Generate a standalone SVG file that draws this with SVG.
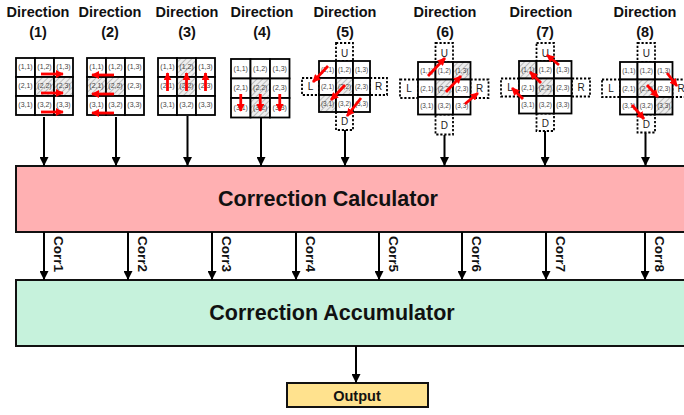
<svg xmlns="http://www.w3.org/2000/svg" width="684" height="415" viewBox="0 0 684 415">
<style>
.cell{fill:#fff;stroke:#000;stroke-width:1.8}
.hat{fill:url(#hatch);stroke:#000;stroke-width:1.8}
.lbl{font-family:"Liberation Sans",Arial,sans-serif;font-size:7px;fill:#444;text-anchor:middle}
.lbs{font-family:"Liberation Sans",Arial,sans-serif;font-size:6.4px;fill:#444;text-anchor:middle}
.dot{fill:#fff;stroke:#000;stroke-width:1.8;stroke-dasharray:2.2,1.8}
.dl{font-family:"Liberation Sans",Arial,sans-serif;font-size:10px;fill:#222;text-anchor:middle}
.red{stroke:#f00;stroke-width:2.8;fill:none;marker-end:url(#rh)}
.con{stroke:#000;stroke-width:2;fill:none;marker-end:url(#ah)}
.title{font-family:"Liberation Sans",Arial,sans-serif;font-weight:bold;font-size:14.5px;text-anchor:middle;fill:#111}
.corr{font-family:"Liberation Sans",Arial,sans-serif;font-weight:bold;font-size:13.5px;fill:#111}
.big{font-family:"Liberation Sans",Arial,sans-serif;font-weight:bold;font-size:21.5px;text-anchor:middle;fill:#111}
.box{stroke:#111;stroke-width:2}
</style>
<defs>
<pattern id="hatch" patternUnits="userSpaceOnUse" width="4" height="4" patternTransform="rotate(45)">
<rect width="4" height="4" fill="#eeeeee"/>
<line x1="0" y1="0" x2="0" y2="4" stroke="#8a8a8a" stroke-width="1"/>
</pattern>
<marker id="ah" markerUnits="userSpaceOnUse" markerWidth="9" markerHeight="9" viewBox="0 0 10 10" refX="10" refY="5" orient="auto">
<path d="M0,0 L10,5 L0,10 z" fill="#000"/>
</marker>
<marker id="rh" markerUnits="userSpaceOnUse" markerWidth="8" markerHeight="8" viewBox="0 0 10 10" refX="9" refY="5" orient="auto">
<path d="M0,0 L10,5 L0,10 z" fill="#f00"/>
</marker>
</defs>

<!-- Direction 1 -->
<g id="dir1">
<text class="title" x="38" y="17">Direction</text>
<text class="title" x="38" y="37">(1)</text>
<g transform="translate(16,58)">
<rect class="cell" x="0" y="0" width="19" height="19"/><rect class="cell" x="19" y="0" width="19" height="19"/><rect class="cell" x="38" y="0" width="19" height="19"/>
<rect class="cell" x="0" y="19" width="19" height="19"/><rect class="hat" x="19" y="19" width="19" height="19"/><rect class="hat" x="38" y="19" width="19" height="19"/>
<rect class="cell" x="0" y="38" width="19" height="19"/><rect class="cell" x="19" y="38" width="19" height="19"/><rect class="cell" x="38" y="38" width="19" height="19"/>
<text class="lbl" x="9.5" y="11">(1,1)</text><text class="lbl" x="28.5" y="11">(1,2)</text><text class="lbl" x="47.5" y="11">(1,3)</text>
<text class="lbl" x="9.5" y="30">(2,1)</text><text class="lbl" x="28.5" y="30">(2,2)</text><text class="lbl" x="47.5" y="30">(2,3)</text>
<text class="lbl" x="9.5" y="49">(3,1)</text><text class="lbl" x="28.5" y="49">(3,2)</text><text class="lbl" x="47.5" y="49">(3,3)</text>
<line class="red" x1="25" y1="16" x2="47" y2="16"/>
<line class="red" x1="25" y1="35" x2="47" y2="35"/>
<line class="red" x1="25" y1="54" x2="47" y2="54"/>
</g>
</g>

<!-- Direction 2 -->
<g id="dir2">
<text class="title" x="110" y="17">Direction</text>
<text class="title" x="110" y="37">(2)</text>
<g transform="translate(87,58)">
<rect class="cell" x="0" y="0" width="19" height="19"/><rect class="cell" x="19" y="0" width="19" height="19"/><rect class="cell" x="38" y="0" width="19" height="19"/>
<rect class="hat" x="0" y="19" width="19" height="19"/><rect class="hat" x="19" y="19" width="19" height="19"/><rect class="cell" x="38" y="19" width="19" height="19"/>
<rect class="cell" x="0" y="38" width="19" height="19"/><rect class="cell" x="19" y="38" width="19" height="19"/><rect class="cell" x="38" y="38" width="19" height="19"/>
<text class="lbl" x="9.5" y="11">(1,1)</text><text class="lbl" x="28.5" y="11">(1,2)</text><text class="lbl" x="47.5" y="11">(1,3)</text>
<text class="lbl" x="9.5" y="30">(2,1)</text><text class="lbl" x="28.5" y="30">(2,2)</text><text class="lbl" x="47.5" y="30">(2,3)</text>
<text class="lbl" x="9.5" y="49">(3,1)</text><text class="lbl" x="28.5" y="49">(3,2)</text><text class="lbl" x="47.5" y="49">(3,3)</text>
<line class="red" x1="27" y1="17" x2="5" y2="17"/>
<line class="red" x1="27" y1="36" x2="5" y2="36"/>
<line class="red" x1="27" y1="55" x2="5" y2="55"/>
</g>
</g>

<!-- Direction 3 -->
<g id="dir3">
<text class="title" x="187" y="17">Direction</text>
<text class="title" x="187" y="37">(3)</text>
<g transform="translate(158,58)">
<rect class="cell" x="0" y="0" width="19" height="19"/><rect class="hat" x="19" y="0" width="19" height="19"/><rect class="cell" x="38" y="0" width="19" height="19"/>
<rect class="cell" x="0" y="19" width="19" height="19"/><rect class="hat" x="19" y="19" width="19" height="19"/><rect class="cell" x="38" y="19" width="19" height="19"/>
<rect class="cell" x="0" y="38" width="19" height="19"/><rect class="cell" x="19" y="38" width="19" height="19"/><rect class="cell" x="38" y="38" width="19" height="19"/>
<text class="lbl" x="9.5" y="11">(1,1)</text><text class="lbl" x="28.5" y="11">(1,2)</text><text class="lbl" x="47.5" y="11">(1,3)</text>
<text class="lbl" x="9.5" y="30">(2,1)</text><text class="lbl" x="28.5" y="30">(2,2)</text><text class="lbl" x="47.5" y="30">(2,3)</text>
<text class="lbl" x="9.5" y="49">(3,1)</text><text class="lbl" x="28.5" y="49">(3,2)</text><text class="lbl" x="47.5" y="49">(3,3)</text>
<line class="red" x1="9.5" y1="33" x2="9.5" y2="15"/>
<line class="red" x1="28.5" y1="33" x2="28.5" y2="15"/>
<line class="red" x1="47.5" y1="33" x2="47.5" y2="15"/>
</g>
</g>

<!-- Direction 4 -->
<g id="dir4">
<text class="title" x="262" y="17">Direction</text>
<text class="title" x="262" y="37">(4)</text>
<g transform="translate(231,59)">
<rect class="cell" x="0" y="0" width="19.5" height="19.5"/><rect class="cell" x="19.5" y="0" width="19.5" height="19.5"/><rect class="cell" x="39" y="0" width="19.5" height="19.5"/>
<rect class="cell" x="0" y="19.5" width="19.5" height="19.5"/><rect class="hat" x="19.5" y="19.5" width="19.5" height="19.5"/><rect class="cell" x="39" y="19.5" width="19.5" height="19.5"/>
<rect class="cell" x="0" y="39" width="19.5" height="19.5"/><rect class="hat" x="19.5" y="39" width="19.5" height="19.5"/><rect class="cell" x="39" y="39" width="19.5" height="19.5"/>
<text class="lbl" x="9.75" y="12">(1,1)</text><text class="lbl" x="29.25" y="12">(1,2)</text><text class="lbl" x="48.75" y="12">(1,3)</text>
<text class="lbl" x="9.75" y="31">(2,1)</text><text class="lbl" x="29.25" y="31">(2,2)</text><text class="lbl" x="48.75" y="31">(2,3)</text>
<text class="lbl" x="9.75" y="51">(3,1)</text><text class="lbl" x="29.25" y="51">(3,2)</text><text class="lbl" x="48.75" y="51">(3,3)</text>
<line class="red" x1="9.75" y1="35" x2="9.75" y2="52"/>
<line class="red" x1="29.25" y1="35" x2="29.25" y2="52"/>
<line class="red" x1="48.75" y1="35" x2="48.75" y2="52"/>
</g>
</g>

<!-- Direction 5 -->
<g id="dir5">
<text class="title" x="345" y="17">Direction</text>
<text class="title" x="345" y="37">(5)</text>
<g transform="translate(319,61)">
<rect class="dot" x="17" y="-18" width="17" height="18"/><text class="dl" x="25.5" y="-4">U</text>
<rect class="dot" x="-17" y="17" width="17" height="17"/><text class="dl" x="-8.5" y="29">L</text>
<rect class="dot" x="51" y="17" width="17" height="17"/><text class="dl" x="59.5" y="29">R</text>
<rect class="dot" x="17" y="51" width="17" height="18"/><text class="dl" x="25.5" y="64">D</text>
<rect class="cell" x="0" y="0" width="17" height="17"/><rect class="cell" x="17" y="0" width="17" height="17"/><rect class="cell" x="34" y="0" width="17" height="17"/>
<rect class="cell" x="0" y="17" width="17" height="17"/><rect class="hat" x="17" y="17" width="17" height="17"/><rect class="cell" x="34" y="17" width="17" height="17"/>
<rect class="hat" x="0" y="34" width="17" height="17"/><rect class="cell" x="17" y="34" width="17" height="17"/><rect class="cell" x="34" y="34" width="17" height="17"/>
<text class="lbs" x="8.5" y="11">(1,1)</text><text class="lbs" x="25.5" y="11">(1,2)</text><text class="lbs" x="42.5" y="11">(1,3)</text>
<text class="lbs" x="8.5" y="28">(2,1)</text><text class="lbs" x="25.5" y="28">(2,2)</text><text class="lbs" x="42.5" y="28">(2,3)</text>
<text class="lbs" x="8.5" y="45">(3,1)</text><text class="lbs" x="25.5" y="45">(3,2)</text><text class="lbs" x="42.5" y="45">(3,3)</text>
<line class="red" x1="9" y1="5" x2="-6" y2="21"/>
<line class="red" x1="26" y1="24" x2="12" y2="39"/>
<line class="red" x1="42" y1="37" x2="28" y2="55"/>
</g>
</g>

<!-- Direction 6 -->
<g id="dir6">
<text class="title" x="445" y="17">Direction</text>
<text class="title" x="445" y="37">(6)</text>
<g transform="translate(418,62)">
<rect class="dot" x="17.5" y="-19" width="17.5" height="19"/><text class="dl" x="26.25" y="-5">U</text>
<rect class="dot" x="-18" y="17.5" width="18" height="18.5"/><text class="dl" x="-9" y="30">L</text>
<rect class="dot" x="52.5" y="17.5" width="18" height="18.5"/><text class="dl" x="61.5" y="30">R</text>
<rect class="dot" x="17.5" y="52.5" width="17.5" height="20"/><text class="dl" x="26.25" y="67">D</text>
<rect class="cell" x="0" y="0" width="17.5" height="17.5"/><rect class="cell" x="17.5" y="0" width="17.5" height="17.5"/><rect class="hat" x="35" y="0" width="17.5" height="17.5"/>
<rect class="cell" x="0" y="17.5" width="17.5" height="17.5"/><rect class="hat" x="17.5" y="17.5" width="17.5" height="17.5"/><rect class="cell" x="35" y="17.5" width="17.5" height="17.5"/>
<rect class="cell" x="0" y="35" width="17.5" height="17.5"/><rect class="cell" x="17.5" y="35" width="17.5" height="17.5"/><rect class="cell" x="35" y="35" width="17.5" height="17.5"/>
<text class="lbs" x="8.75" y="11">(1,1)</text><text class="lbs" x="26.25" y="11">(1,2)</text><text class="lbs" x="43.75" y="11">(1,3)</text>
<text class="lbs" x="8.75" y="28.5">(2,1)</text><text class="lbs" x="26.25" y="28.5">(2,2)</text><text class="lbs" x="43.75" y="28.5">(2,3)</text>
<text class="lbs" x="8.75" y="46">(3,1)</text><text class="lbs" x="26.25" y="46">(3,2)</text><text class="lbs" x="43.75" y="46">(3,3)</text>
<line class="red" x1="10" y1="14" x2="27" y2="-4"/>
<line class="red" x1="28" y1="30" x2="43" y2="14"/>
<line class="red" x1="47" y1="42" x2="60" y2="31"/>
</g>
</g>

<!-- Direction 7 -->
<g id="dir7">
<text class="title" x="541" y="17">Direction</text>
<text class="title" x="545" y="37">(7)</text>
<g transform="translate(519,61)">
<rect class="dot" x="17.5" y="-18" width="17.5" height="18"/><text class="dl" x="26.25" y="-4">U</text>
<rect class="dot" x="-18" y="17.5" width="18" height="18"/><text class="dl" x="-9" y="30">L</text>
<rect class="dot" x="53" y="17.5" width="18" height="18"/><text class="dl" x="62" y="30">R</text>
<rect class="dot" x="17.5" y="52.5" width="17.5" height="17.5"/><text class="dl" x="26.25" y="66">D</text>
<rect class="hat" x="0" y="0" width="17.5" height="17.5"/><rect class="cell" x="17.5" y="0" width="17.5" height="17.5"/><rect class="cell" x="35" y="0" width="17.5" height="17.5"/>
<rect class="cell" x="0" y="17.5" width="17.5" height="17.5"/><rect class="hat" x="17.5" y="17.5" width="17.5" height="17.5"/><rect class="cell" x="35" y="17.5" width="17.5" height="17.5"/>
<rect class="cell" x="0" y="35" width="17.5" height="17.5"/><rect class="cell" x="17.5" y="35" width="17.5" height="17.5"/><rect class="cell" x="35" y="35" width="17.5" height="17.5"/>
<text class="lbs" x="8.75" y="11">(1,1)</text><text class="lbs" x="26.25" y="11">(1,2)</text><text class="lbs" x="43.75" y="11">(1,3)</text>
<text class="lbs" x="8.75" y="28.5">(2,1)</text><text class="lbs" x="26.25" y="28.5">(2,2)</text><text class="lbs" x="43.75" y="28.5">(2,3)</text>
<text class="lbs" x="8.75" y="46">(3,1)</text><text class="lbs" x="26.25" y="46">(3,2)</text><text class="lbs" x="43.75" y="46">(3,3)</text>
<line class="red" x1="40" y1="4" x2="28" y2="-6"/>
<line class="red" x1="22" y1="22" x2="11" y2="11"/>
<line class="red" x1="4" y1="38" x2="-7" y2="27"/>
</g>
</g>

<!-- Direction 8 -->
<g id="dir8">
<text class="title" x="645" y="17">Direction</text>
<text class="title" x="645" y="37">(8)</text>
<g transform="translate(620,62)">
<rect class="dot" x="17.5" y="-19" width="17.5" height="19"/><text class="dl" x="26.25" y="-5">U</text>
<rect class="dot" x="-18" y="17.5" width="18" height="17.5"/><text class="dl" x="-9" y="30">L</text>
<rect class="dot" x="52.5" y="17.5" width="18" height="17.5"/><text class="dl" x="61" y="30">R</text>
<rect class="dot" x="17.5" y="52.5" width="17.5" height="18"/><text class="dl" x="26.25" y="66">D</text>
<rect class="cell" x="0" y="0" width="17.5" height="17.5"/><rect class="cell" x="17.5" y="0" width="17.5" height="17.5"/><rect class="cell" x="35" y="0" width="17.5" height="17.5"/>
<rect class="cell" x="0" y="17.5" width="17.5" height="17.5"/><rect class="hat" x="17.5" y="17.5" width="17.5" height="17.5"/><rect class="cell" x="35" y="17.5" width="17.5" height="17.5"/>
<rect class="cell" x="0" y="35" width="17.5" height="17.5"/><rect class="cell" x="17.5" y="35" width="17.5" height="17.5"/><rect class="hat" x="35" y="35" width="17.5" height="17.5"/>
<text class="lbs" x="8.75" y="11">(1,1)</text><text class="lbs" x="26.25" y="11">(1,2)</text><text class="lbs" x="43.75" y="11">(1,3)</text>
<text class="lbs" x="8.75" y="28.5">(2,1)</text><text class="lbs" x="26.25" y="28.5">(2,2)</text><text class="lbs" x="43.75" y="28.5">(2,3)</text>
<text class="lbs" x="8.75" y="46">(3,1)</text><text class="lbs" x="26.25" y="46">(3,2)</text><text class="lbs" x="43.75" y="46">(3,3)</text>
<line class="red" x1="47" y1="11" x2="57" y2="24"/>
<line class="red" x1="27" y1="23" x2="38" y2="35"/>
<line class="red" x1="12" y1="43" x2="24" y2="57"/>
</g>
</g>

<!-- Main blocks -->
<g id="calculator">
<rect class="box" x="16" y="166" width="690" height="66" fill="#ffb0b2"/>
<text class="big" x="328" y="206">Correction Calculator</text>
</g>
<g id="accumulator">
<rect class="box" x="16" y="280" width="690" height="66" fill="#c6f2dc"/>
<text class="big" x="332" y="320" font-size="22.5">Correction Accumulator</text>
</g>
<g id="output">
<rect class="box" x="287" y="383" width="141" height="24" fill="#ffe28e" stroke-width="1.6"/>
<text x="357" y="400.5" text-anchor="middle" font-family="Liberation Sans, Arial, sans-serif" font-weight="bold" font-size="14.5" fill="#111">Output</text>
</g>

<!-- Connectors -->
<g id="connectors">
<line class="con" x1="44" y1="117" x2="44" y2="166"/>
<line class="con" x1="116" y1="117" x2="116" y2="166"/>
<line class="con" x1="187.5" y1="116" x2="187.5" y2="166"/>
<line class="con" x1="261" y1="118" x2="261" y2="166"/>
<line class="con" x1="345" y1="130" x2="345" y2="166"/>
<line class="con" x1="444.5" y1="135" x2="444.5" y2="166"/>
<line class="con" x1="545" y1="131" x2="545" y2="166"/>
<line class="con" x1="645.5" y1="133" x2="645.5" y2="166"/>

<line class="con" x1="44" y1="232" x2="44" y2="280"/>
<line class="con" x1="128" y1="232" x2="128" y2="280"/>
<line class="con" x1="212" y1="232" x2="212" y2="280"/>
<line class="con" x1="296" y1="232" x2="296" y2="280"/>
<line class="con" x1="379" y1="232" x2="379" y2="280"/>
<line class="con" x1="462" y1="232" x2="462" y2="280"/>
<line class="con" x1="546" y1="232" x2="546" y2="280"/>
<line class="con" x1="645" y1="232" x2="645" y2="280"/>
<text class="corr" transform="translate(54,236) rotate(90)">Corr1</text>
<text class="corr" transform="translate(138,236) rotate(90)">Corr2</text>
<text class="corr" transform="translate(222,236) rotate(90)">Corr3</text>
<text class="corr" transform="translate(306,236) rotate(90)">Corr4</text>
<text class="corr" transform="translate(389,236) rotate(90)">Corr5</text>
<text class="corr" transform="translate(472,236) rotate(90)">Corr6</text>
<text class="corr" transform="translate(556,236) rotate(90)">Corr7</text>
<text class="corr" transform="translate(655,236) rotate(90)">Corr8</text>

<line class="con" x1="356" y1="346" x2="356" y2="383"/>
</g>
</svg>
